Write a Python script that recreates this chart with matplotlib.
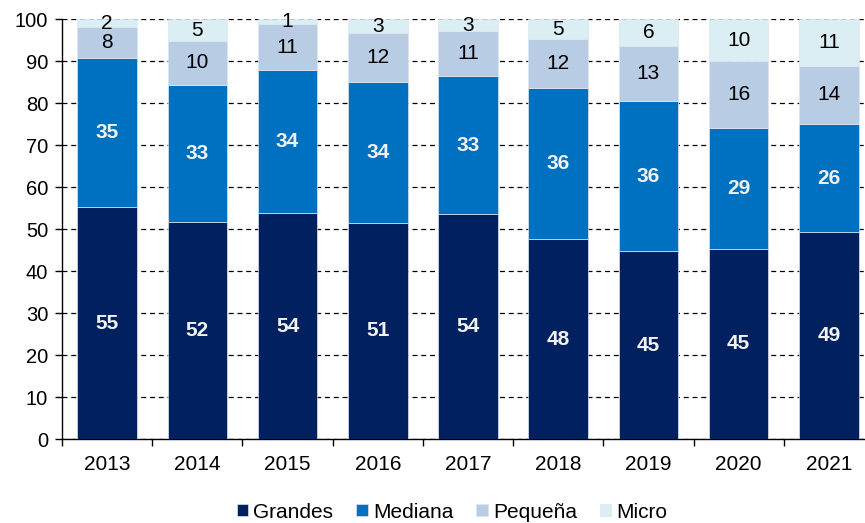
import matplotlib
matplotlib.use("Agg")
import matplotlib.pyplot as plt
import numpy as np

plt.rcParams['font.family'] = ['Liberation Sans', 'DejaVu Sans']

years = ["2013", "2014", "2015", "2016", "2017", "2018", "2019", "2020", "2021"]
grandes = [55.3, 51.8, 53.8, 51.6, 53.6, 47.7, 44.8, 45.4, 49.4]
mediana = [35.4, 32.6, 34.1, 33.5, 32.9, 35.9, 35.7, 28.7, 25.6]
pequena = [7.5, 10.4, 11.0, 11.6, 10.7, 11.7, 13.2, 16.0, 14.0]
micro = [1.8, 5.2, 1.1, 3.3, 2.8, 4.7, 6.3, 9.9, 11.0]

lab_grandes = [55, 52, 54, 51, 54, 48, 45, 45, 49]
lab_mediana = [35, 33, 34, 34, 33, 36, 36, 29, 26]
lab_pequena = [8, 10, 11, 12, 11, 12, 13, 16, 14]
lab_micro = [2, 5, 1, 3, 3, 5, 6, 10, 11]

series = [
    ("Grandes", grandes, lab_grandes, "#002060", "#F2F2F2", "bold"),
    ("Mediana", mediana, lab_mediana, "#0070C0", "#F2F2F2", "bold"),
    ("Pequeña", pequena, lab_pequena, "#B8CCE4", "black", "normal"),
    ("Micro", micro, lab_micro, "#DAEEF3", "black", "normal"),
]

fig = plt.figure(figsize=(8.65, 5.23), dpi=100)
ax = fig.add_axes([62/865, 1-439.3/523, 812/865, 420/523])

x = np.arange(len(years))
bottom = np.zeros(len(years))
for name, vals, labs, color, tcolor, weight in series:
    vals = np.array(vals)
    ax.bar(x, vals, bottom=bottom, width=0.66, color=color, label=name,
           edgecolor="#dce6f2", linewidth=0.5, zorder=3)
    for xi, b, v, l in zip(x, bottom, vals, labs):
        ax.text(xi, b + v/2, str(l), ha="center", va="center", color=tcolor,
                fontsize=15, fontweight=weight, zorder=4)
    bottom += vals

ax.set_xlim(-0.5, len(years) - 0.5)
ax.set_ylim(0, 100)
ax.set_yticks(np.arange(0, 101, 10))
ax.tick_params(axis="y", labelsize=14.5, length=5, direction="out", width=1, pad=5)
ax.set_xticks(x)
ax.set_xticklabels(years, fontsize=15)
ax.tick_params(axis="x", which="major", length=0, pad=11)
ax.set_xticks(np.arange(-0.5, len(years), 1), minor=True)
ax.tick_params(axis="x", which="minor", length=5, direction="out", width=1)
ax.grid(axis="y", linestyle=(0, (4, 3)), color="black", linewidth=0.9, zorder=0)
ax.set_axisbelow(True)
for s in ["top", "right"]:
    ax.spines[s].set_visible(False)
ax.spines["left"].set_linewidth(1)
ax.spines["bottom"].set_linewidth(1)

fig.legend(loc="center", bbox_to_anchor=(452/865, 1-512/523), ncol=4, frameon=False,
           fontsize=15, handlelength=0.55, handleheight=0.55, handletextpad=0.25,
           columnspacing=1.1)

fig.savefig("out.png", dpi=100)
